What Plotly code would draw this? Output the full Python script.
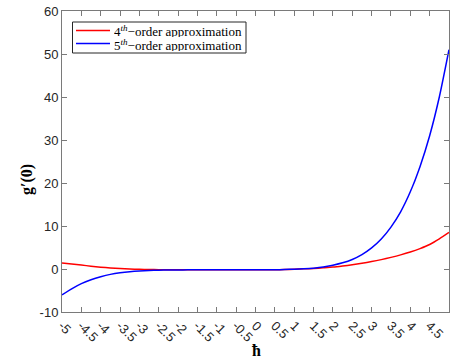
import plotly.graph_objects as go

# hbar values
hbar = [-5, -4.75, -4.5, -4.25, -4, -3.75, -3.5, -3.25, -3, -2.75, -2.5, -2.25, -2,
        -1.75, -1.5, -1.25, -1, -0.75, -0.5, -0.25, 0, 0.25, 0.5, 0.75, 1, 1.25,
        1.5, 1.75, 2, 2.25, 2.5, 2.75, 3, 3.25, 3.5, 3.75, 4, 4.25, 4.5, 4.75, 5]

# 4th-order approximation of g'(0)
g4 = [1.4, 1.15, 0.92, 0.65, 0.42, 0.25, 0.1, 0.0, -0.07, -0.12, -0.16, -0.18, -0.2,
      -0.2, -0.2, -0.2, -0.2, -0.2, -0.2, -0.2, -0.2, -0.2, -0.18, -0.13, -0.05, 0.03,
      0.13, 0.28, 0.45, 0.7, 0.98, 1.32, 1.72, 2.18, 2.7, 3.28, 3.95, 4.75, 5.7, 7.0, 8.5]

# 5th-order approximation of g'(0)
g5 = [-6.0, -4.6, -3.4, -2.5, -1.8, -1.25, -0.88, -0.62, -0.45, -0.34, -0.27, -0.23, -0.21,
      -0.2, -0.2, -0.2, -0.2, -0.2, -0.2, -0.2, -0.2, -0.2, -0.17, -0.12, -0.05, 0.05,
      0.2, 0.45, 0.88, 1.44, 2.22, 3.35, 4.9, 6.98, 9.75, 13.3, 17.95, 23.8, 31.0, 40.0, 51.0]

series_names = ["4<sup><i>th</i></sup>\u2212order approximation",
                "5<sup><i>th</i></sup>\u2212order approximation"]
series_colors = ["#ff0000", "#0000ff"]

x_tick_vals = [-5, -4.5, -4, -3.5, -3, -2.5, -2, -1.5, -1, -0.5, 0, 0.5, 1, 1.5, 2,
               2.5, 3, 3.5, 4, 4.5, 5]
x_tick_text = ["-5", "-4.5", "-4", "-3.5", "-3", "-2.5", "-2", "-1.5", "-1", "-0.5", "0",
               "0.5", "1", "1.5", "2", "2.5", "3", "3.5", "4", "4.5", "5"]
y_tick_vals = [-10, 0, 10, 20, 30, 40, 50, 60]
y_tick_text = ["-10", "0", "10", "20", "30", "40", "50", "60"]

fig = go.Figure()
for ys, nm, col in zip([g4, g5], series_names, series_colors):
    fig.add_trace(go.Scatter(x=hbar, y=ys, mode="lines", name=nm, showlegend=False,
                             line=dict(color=col, width=1.5, shape="spline", smoothing=0.6)))

axis_common = dict(showline=True, linecolor="#7a7a7a", linewidth=1, mirror="allticks",
                   ticks="inside", ticklen=5, tickcolor="#7a7a7a", showgrid=False, zeroline=False,
                   tickfont=dict(family="Liberation Sans, Arial", size=13, color="#262626"))

fig.update_xaxes(range=[-5, 5], tickmode="array", tickvals=x_tick_vals, ticktext=x_tick_text,
                 tickangle=45, **axis_common)
fig.update_yaxes(range=[-10, 60], tickmode="array", tickvals=y_tick_vals, ticktext=y_tick_text,
                 **axis_common)

# plot-area geometry in pixels (for placing the legend box / titles)
L, R, T, B = 62, 449, 11, 312
W, H = R - L, B - T
px = lambda x: (x - L) / W
py = lambda y: (B - y) / H

shapes = [dict(type="rect", xref="paper", yref="paper", x0=px(72.5), x1=px(246), y0=py(53), y1=py(22),
               line=dict(color="#262626", width=1), fillcolor="white", layer="above")]
annotations = []
for i, (nm, col) in enumerate(zip(series_names, series_colors)):
    yy = 30.5 + i * 13
    shapes.append(dict(type="line", xref="paper", yref="paper", x0=px(76), x1=px(110),
                       y0=py(yy), y1=py(yy), line=dict(color=col, width=1.5), layer="above"))
    annotations.append(dict(text=nm, xref="paper", yref="paper", x=px(112), y=py(yy + 1),
                            xanchor="left", yanchor="middle", showarrow=False, height=12,
                            font=dict(family="Liberation Serif, DejaVu Serif", size=13, color="#000000")))

annotations += [
    dict(text="<b>g\u2032(0)</b>", xref="paper", yref="paper", x=px(27), y=py(180),
         xanchor="center", yanchor="middle", showarrow=False, textangle=-90,
         font=dict(family="Liberation Serif, DejaVu Serif", size=16, color="#000000")),
    dict(text="<b>\u0127</b>", xref="paper", yref="paper", x=px(256), y=py(350),
         xanchor="center", yanchor="middle", showarrow=False,
         font=dict(family="Liberation Serif, DejaVu Serif", size=16, color="#000000")),
]

fig.update_layout(
    width=451, height=358,
    margin=dict(l=L, r=451 - R, t=T, b=358 - B),
    paper_bgcolor="white", plot_bgcolor="white",
    showlegend=False,
    shapes=shapes,
    annotations=annotations,
)

fig.write_html("out.html")
